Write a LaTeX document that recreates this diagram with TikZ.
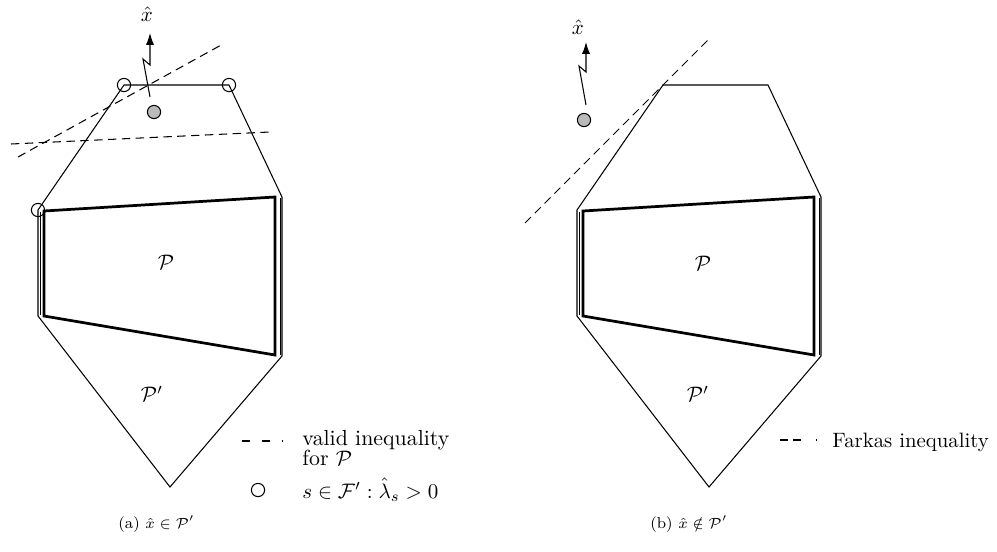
\documentclass[tikz,border=0pt]{standalone}
\usetikzlibrary{arrows.meta}
\begin{document}
\begin{tikzpicture}[x=0.476pt,y=-0.476pt,
  edge/.style={line width=0.5pt, line join=miter},
  thickP/.style={line width=1.3pt, line join=miter},
  side/.style={line width=0.45pt},
  ineq/.style={line width=0.5pt, dash pattern=on 4pt off 2.6pt},
  vcirc/.style={draw, circle, minimum size=6.3pt, inner sep=0pt, line width=0.5pt},
  gdot/.style={draw, circle, fill=black!27, minimum size=6.3pt, inner sep=0pt, line width=0.5pt},
  zig/.style={line width=0.5pt, -{Latex[length=5.6pt,width=3.8pt]}},
  lblL/.style={inner sep=0pt, font=\fontsize{10.4}{12}\selectfont},
  lblR/.style={inner sep=0pt, font=\fontsize{9.9}{12}\selectfont},
  legL/.style={inner sep=0pt, anchor=base west, font=\fontsize{10.4}{12}\selectfont},
  legR/.style={inner sep=0pt, anchor=base west, font=\fontsize{9.9}{12}\selectfont},
  capt/.style={inner sep=0pt, anchor=base west, font=\fontsize{7.5}{9}\selectfont}]
\useasboundingbox (0,0) rectangle (997,552);

% ---- polytopes (same shape in both panels)
\foreach \s/\n in {0/a,539/b}{
  \begin{scope}[shift={(\s,0)}]
    \coordinate (\n1) at (124,85);
    \coordinate (\n2) at (229,85);
    \coordinate (\n3) at (282,197);
    \coordinate (\n4) at (282,356);
    \coordinate (\n5) at (170,487);
    \coordinate (\n6) at (38,316);
    \coordinate (\n7) at (38,210);
    \coordinate (\n r1) at (280,198);
    \coordinate (\n r2) at (280,355);
    \coordinate (\n l1) at (40.5,212);
    \coordinate (\n l2) at (40.5,315);
    \coordinate (\n q1) at (44,211);
    \coordinate (\n q2) at (275,197);
    \coordinate (\n q3) at (275,355);
    \coordinate (\n q4) at (44,316);
    \draw[edge] (\n1) -- (\n2) -- (\n3) -- (\n4) -- (\n5) -- (\n6) -- (\n7) -- cycle;
    \draw[side] (\n r1) -- (\n r2);
    \draw[side] (\n l1) -- (\n l2);
    \draw[thickP] (\n q1) -- (\n q2) -- (\n q3) -- (\n q4) -- cycle;
  \end{scope}
}

% ---- left panel (a)
\node[lblL] (Pa) at (166,262) {$\mathcal{P}$};
\node[lblL] (Ppa) at (152,394) {$\mathcal{P}'$};

\coordinate (d1s) at (18,157);
\coordinate (d1e) at (223,44);
\coordinate (d2s) at (11,144);
\coordinate (d2e) at (270,132);
\draw[ineq] (d1s) -- (d1e);
\draw[ineq] (d2s) -- (d2e);

\node[vcirc] (c1) at (a1) {};
\node[vcirc] (c2) at (a2) {};
\node[vcirc] (c3) at (a7) {};

\node[gdot] (xa) at (154,112) {};
\coordinate (za0) at (150,97);
\coordinate (za1) at (143,59);
\coordinate (za2) at (150,65);
\coordinate (za3) at (150,33);
\draw[zig] (za0) -- (za1) -- (za2) -- (za3);
\node[lblL] (xla) at (147,14) {$\hat{x}$};

% legend (a)
\coordinate (la1) at (242,441);
\coordinate (la2) at (283,441);
\draw[line width=0.5pt, dash pattern=on 3.8pt off 5.7pt on 3.8pt off 5.7pt on 0.5pt] (la1) -- (la2);
\node[legL] (ta1) at (302,445) {valid inequality};
\node[legL] (ta2) at (302,465) {for $\mathcal{P}$};
\node[vcirc] (lc) at (258,490) {};
\node[legL] (ta3) at (302,498) {$s\in\mathcal{F}':\hat{\lambda}_s>0$};
\node[capt] (capa) at (118,528) {(a) $\hat{x}\in\mathcal{P}'$};

% ---- right panel (b)
\node[lblR] (Pb) at (703,263) {$\mathcal{P}$};
\node[lblR] (Ppb) at (698,394) {$\mathcal{P}'$};

\coordinate (f1) at (525,223);
\coordinate (f2) at (708,40);
\draw[ineq] (f1) -- (f2);

\node[gdot] (xb) at (584,120) {};
\coordinate (zb0) at (586,105);
\coordinate (zb1) at (579,66);
\coordinate (zb2) at (586,72);
\coordinate (zb3) at (586,42);
\draw[zig] (zb0) -- (zb1) -- (zb2) -- (zb3);
\node[lblR] (xlb) at (578,27) {$\hat{x}$};

% legend (b)
\coordinate (lb1) at (780,440);
\coordinate (lb2) at (819,440);
\draw[line width=0.5pt, dash pattern=on 3.8pt off 2.4pt on 3.8pt off 7.1pt on 0.5pt] (lb1) -- (lb2);
\node[legR] (tb1) at (832,447) {Farkas inequality};
\node[capt] (capb) at (650,528) {(b) $\hat{x}\notin\mathcal{P}'$};
\end{tikzpicture}
\end{document}
